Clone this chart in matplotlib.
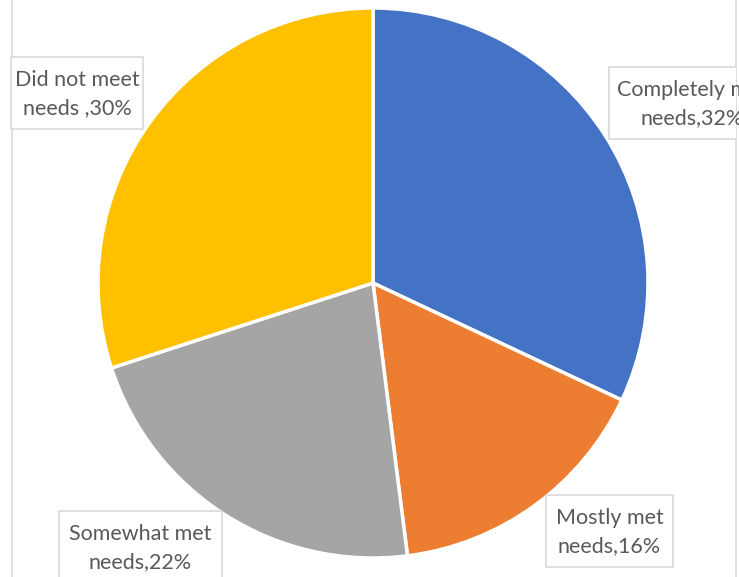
import matplotlib
matplotlib.use("Agg")
import matplotlib.pyplot as plt
from matplotlib.patches import Rectangle
from matplotlib.lines import Line2D

categories = ["Completely met\nneeds", "Mostly met\nneeds", "Somewhat met\nneeds", "Did not meet\nneeds "]
values = [32, 16, 22, 30]
colors = ["#4472C4", "#ED7D31", "#A5A5A5", "#FFC000"]

W, H = 739, 577
fig = plt.figure(figsize=(W / 100, H / 100), dpi=100)
ax = fig.add_axes([0, 0, 1, 1])

# chart frame (only the side edges are visible)
frame_kw = dict(color="#D9D9D9", lw=1.2, zorder=0)
ax.add_line(Line2D([11.5, 11.5], [-5, H + 5], **frame_kw))
ax.add_line(Line2D([735.5, 735.5], [-5, H + 5], **frame_kw))

ax.pie(values, colors=colors, startangle=90, counterclock=False,
       center=(373, H - 283), radius=275, frame=True,
       wedgeprops=dict(edgecolor="white", linewidth=2.5))
ax.set_xlim(0, W)
ax.set_ylim(0, H)
ax.set_aspect("equal")
ax.axis("off")

# everything inside the chart area is clipped at its right edge
clip = Rectangle((0, -10), 736, H + 20, transform=ax.transData, visible=False)
ax.add_patch(clip)

# label boxes: (left, top, width, height) in pixel units from the top-left
boxes = [(609, 67, 170, 72), (546, 495, 127, 72), (59, 511, 163, 72), (11, 57, 132, 72)]
text_x = [692, 609.5, 140.5, 77]

for cat, val, (bx, by, bw, bh), tx in zip(categories, values, boxes, text_x):
    box = Rectangle((bx, H - by - bh), bw, bh, facecolor="white",
                    edgecolor="#D9D9D9", lw=1.2, zorder=5)
    ax.add_patch(box)
    box.set_clip_path(clip)
    t = ax.text(tx, H - by - bh / 2 - 1, f"{cat},{val}%", ha="center", va="center",
                fontsize=15.5, family="Lato", color="#595959", linespacing=1.5,
                zorder=6)
    t.set_clip_path(clip)

fig.savefig("out.png", dpi=100)
